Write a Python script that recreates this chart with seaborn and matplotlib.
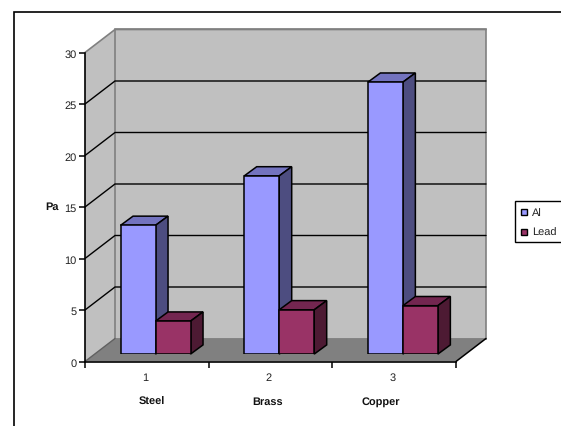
import matplotlib
matplotlib.use("Agg")
import matplotlib.pyplot as plt
from matplotlib.patches import Polygon
import pandas as pd
import seaborn as sns

materials = ["Steel", "Brass", "Copper"]
category_numbers = ["1", "2", "3"]
al_values = [12.5, 17.3, 26.4]
lead_values = [3.2, 4.3, 4.7]
series_names = ["Al", "Lead"]
y_ticks = [0, 5, 10, 15, 20, 25, 30]

front_colors = {"Al": "#9999FF", "Lead": "#993366"}
top_colors = {"Al": "#7373BF", "Lead": "#732650"}
side_colors = {"Al": "#4D4D80", "Lead": "#4D1A33"}

W, H = 561, 427
sns.set_theme(style="white")
plt.rcParams["font.family"] = ["Liberation Sans", "DejaVu Sans"]
plt.rcParams["text.hinting"] = "no_hinting"
plt.rcParams["text.hinting_factor"] = 1

fig = plt.figure(figsize=(W / 100, H / 100), dpi=100, facecolor="white")


def axes_at(left, top, right, bottom):
    return fig.add_axes([left / W, 1 - bottom / H, (right - left) / W, (bottom - top) / H])


# Outer chart frame: left and top edges only reach the canvas
frame = fig.add_axes([0, 0, 1, 1], zorder=0)
frame.set_xlim(0, W)
frame.set_ylim(H, 0)
frame.axis("off")
frame.plot([14, 14, W], [H, 12.5, 12.5], color="black", lw=1.2, solid_joinstyle="miter")

# Front plane of the 3D box carries the value axis
L, R, T, B = 85, 456, 53.5, 362.5
DX, DY = 30, 23
ppu_y = (B - T) / 30
axis = axes_at(L, T, R, B)
axis.set_zorder(1)
axis.patch.set_alpha(0)
axis.set_xlim(0, 3)
axis.set_ylim(0, 30)

dx_box = DX / ((R - L) / 3)
dy_box = DY / ppu_y

# Left wall, back wall and floor of the box
axis.add_patch(Polygon([(0, 0), (dx_box, dy_box), (dx_box, 30 + dy_box), (0, 30)], closed=True,
                       fc="#C0C0C0", ec="none", clip_on=False, zorder=0))
axis.add_patch(Polygon([(dx_box, dy_box), (3 + dx_box, dy_box), (3 + dx_box, 30 + dy_box), (dx_box, 30 + dy_box)],
                       closed=True, fc="#C0C0C0", ec="#808080", lw=1.2, clip_on=False, zorder=0))
axis.add_patch(Polygon([(0, 0), (3, 0), (3 + dx_box, dy_box), (dx_box, dy_box)], closed=True,
                       fc="#808080", ec="none", clip_on=False, zorder=0.5))
axis.plot([0, dx_box, 3 + dx_box], [30, 30 + dy_box, 30 + dy_box], color="#808080", lw=1.2,
          clip_on=False, zorder=0.6)
axis.plot([0, dx_box], [0, dy_box], color="#606060", lw=1, clip_on=False, zorder=0.6)
axis.plot([3, 3 + dx_box], [0, dy_box], color="black", lw=1.1, clip_on=False, zorder=0.6)

# Gridlines run along the side wall and across the back wall
for v in y_ticks[1:-1]:
    axis.plot([0, dx_box, 3 + dx_box], [v, v + dy_box, v + dy_box], color="black", lw=1.0,
              clip_on=False, zorder=0.7, solid_joinstyle="miter")

sns.despine(ax=axis, top=True, right=True)
for side in ("left", "bottom"):
    axis.spines[side].set_color("black")
    axis.spines[side].set_linewidth(1.2)
    axis.spines[side].set_zorder(5)
axis.set_yticks(y_ticks)
axis.set_xticks([0, 1, 2, 3])
axis.set_xticklabels([])
axis.tick_params(axis="both", which="major", direction="out", length=4, width=1.1, color="black",
                 left=True, bottom=True, labelsize=7.8, labelcolor="#222222", pad=2)
axis.set_xlabel("")
axis.set_ylabel("")

# Bars stand a little behind the front plane
bar_dx, bar_dy = 8.7, 7.4
bars_ax = axes_at(L + bar_dx, T - bar_dy, R + bar_dx, B - bar_dy)
bars_ax.set_zorder(2)
bars_ax.patch.set_alpha(0)

data = pd.DataFrame({
    "material": materials * 2,
    "series": ["Al"] * 3 + ["Lead"] * 3,
    "value": al_values + lead_values,
})
sns.barplot(data=data, x="material", y="value", hue="series", hue_order=series_names,
            palette=front_colors, width=0.566, gap=0, saturation=1, legend=False,
            edgecolor="black", linewidth=1.1, ax=bars_ax)
bars_ax.set_xlim(-0.5, 2.5)
bars_ax.set_ylim(0, 30)
bars_ax.axis("off")

depth_x = 12.5 / ((R - L) / 3)
depth_y = 9.2 / ppu_y
for order, (name, container) in enumerate(zip(series_names, bars_ax.containers)):
    for bar in container:
        x0, x1 = bar.get_x(), bar.get_x() + bar.get_width()
        h = bar.get_height()
        bar.set_zorder(3 + 2 * order)
        bars_ax.add_patch(Polygon([(x0, h), (x1, h), (x1 + depth_x, h + depth_y), (x0 + depth_x, h + depth_y)],
                                  closed=True, fc=top_colors[name], ec="black", lw=1.1,
                                  clip_on=False, zorder=2 + 2 * order, joinstyle="miter"))
        bars_ax.add_patch(Polygon([(x1, 0), (x1 + depth_x, depth_y), (x1 + depth_x, h + depth_y), (x1, h)],
                                  closed=True, fc=side_colors[name], ec="black", lw=1.1,
                                  clip_on=False, zorder=2 + 2 * order, joinstyle="miter"))

# Category numbers, material names and the value axis title
frame.set_zorder(3)
for i, num in enumerate(category_numbers):
    frame.text(145 + 124 * i, 378, num, ha="center", va="center", fontsize=7.8, color="#222222")
for x, name in zip([152, 268, 381], materials):
    frame.text(x, 402, name, ha="center", va="center", fontsize=7.6, fontweight="bold", color="#111111")
frame.text(52.5, 207, "Pa", ha="center", va="center", fontsize=7.8, fontweight="bold", color="#111111")

# Legend box runs off the right side of the canvas
frame.plot([W + 5, 515.5, 515.5, W + 5], [201.8, 201.8, 242.5, 242.5], color="black", lw=1.0,
           solid_joinstyle="miter", clip_on=True)
for y, name in zip([213, 233], series_names):
    frame.add_patch(Polygon([(521.5, y - 3), (527.5, y - 3), (527.5, y + 3), (521.5, y + 3)], closed=True,
                            fc=front_colors[name], ec="black", lw=1.0))
    frame.text(532, y + 0.5, name, ha="left", va="center", fontsize=7.8, color="#222222")

fig.savefig("out.png", dpi=100, facecolor="white")
